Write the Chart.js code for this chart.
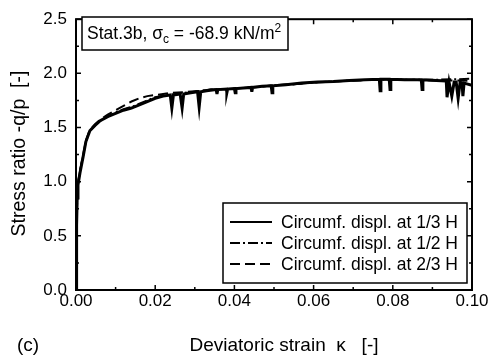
<!DOCTYPE html>
<html>
<head>
<meta charset="utf-8">
<script src="https://cdn.jsdelivr.net/npm/chart.js@4"></script>
<style>
    html, body { margin: 0; padding: 0; background: #fff; }
    #wrap { width: 491px; height: 358px; position: relative; }
</style>
</head>
<body>
<div id="wrap"><canvas id="canvas"></canvas></div>
<script>
// circumferential displacement at 1/3 H (solid)
const strainSolid = [
    0, 0.0001, 0.0002, 0.0003, 0.0005, 0.001, 0.0018, 0.0025, 0.0035, 0.0048,
    0.006, 0.008, 0.010, 0.012, 0.014, 0.016, 0.018, 0.020, 0.022, 0.0238,
    0.0242, 0.0246, 0.0263, 0.0268, 0.0272, 0.029, 0.0307, 0.0311, 0.0315, 0.033,
    0.0354, 0.0356, 0.0358, 0.038, 0.0381, 0.0383, 0.040, 0.0402, 0.0404, 0.0442,
    0.0444, 0.0446, 0.047, 0.0493, 0.0495, 0.0497, 0.053, 0.057, 0.061, 0.065,
    0.069, 0.073, 0.0766, 0.0768, 0.077, 0.0791, 0.0793, 0.0795, 0.083, 0.0872,
    0.0874, 0.0876, 0.091, 0.0935, 0.0937, 0.0942, 0.0949, 0.0955, 0.096, 0.0965,
    0.097, 0.0975, 0.0977, 0.098, 0.1
];
const ratioSolid = [
    0, 0.3, 0.6, 0.85, 0.97, 1.08, 1.23, 1.37, 1.47, 1.52,
    1.56, 1.60, 1.63, 1.66, 1.68, 1.71, 1.74, 1.77, 1.79, 1.80,
    1.68, 1.80, 1.81, 1.68, 1.81, 1.82, 1.83, 1.69, 1.83, 1.84,
    1.85, 1.81, 1.85, 1.855, 1.82, 1.855, 1.86, 1.82, 1.86, 1.87,
    1.83, 1.87, 1.88, 1.885, 1.82, 1.885, 1.895, 1.91, 1.92, 1.925,
    1.935, 1.94, 1.945, 1.84, 1.945, 1.945, 1.85, 1.945, 1.94, 1.94,
    1.85, 1.94, 1.935, 1.93, 1.78, 1.92, 1.79, 1.92, 1.92, 1.77,
    1.92, 1.91, 1.79, 1.91, 1.89
];

// at 1/2 H (dash-dot)
const strainDashDot = [
    0, 0.0001, 0.0002, 0.0003, 0.0005, 0.001, 0.0018, 0.0025, 0.0035, 0.0048,
    0.006, 0.008, 0.010, 0.012, 0.014, 0.016, 0.018, 0.020, 0.023, 0.026,
    0.030, 0.034, 0.038, 0.042, 0.046, 0.050, 0.055, 0.060, 0.065, 0.070,
    0.075, 0.080, 0.085, 0.090, 0.095, 0.1
];
const ratioDashDot = [
    0, 0.32, 0.62, 0.86, 0.98, 1.09, 1.24, 1.37, 1.47, 1.52,
    1.56, 1.60, 1.64, 1.67, 1.69, 1.72, 1.75, 1.78, 1.80, 1.815,
    1.83, 1.85, 1.855, 1.865, 1.875, 1.89, 1.90, 1.915, 1.925, 1.935,
    1.94, 1.945, 1.94, 1.94, 1.945, 1.95
];

// at 2/3 H (dashed)
const strainDashed = [
    0, 0.0001, 0.0002, 0.0003, 0.0005, 0.001, 0.0018, 0.0025, 0.0035, 0.0048,
    0.006, 0.008, 0.010, 0.012, 0.014, 0.016, 0.018, 0.020, 0.022, 0.024,
    0.027, 0.030, 0.034, 0.038, 0.042, 0.046, 0.050, 0.055, 0.060, 0.065,
    0.070, 0.075, 0.080, 0.085, 0.090, 0.095, 0.1
];
const ratioDashed = [
    0, 0.3, 0.62, 0.87, 0.99, 1.10, 1.25, 1.38, 1.48, 1.53,
    1.57, 1.62, 1.66, 1.70, 1.74, 1.77, 1.79, 1.80, 1.81, 1.82,
    1.825, 1.835, 1.85, 1.855, 1.865, 1.875, 1.89, 1.90, 1.915, 1.925,
    1.935, 1.94, 1.945, 1.94, 1.935, 1.935, 1.93
];

const seriesLabels = ['Circumf. displ. at 1/3 H', 'Circumf. displ. at 1/2 H', 'Circumf. displ. at 2/3 H'];
const xTickLabels = ['0.00', '0.02', '0.04', '0.06', '0.08', '0.10'];
const yTickLabels = ['0.0', '0.5', '1.0', '1.5', '2.0', '2.5'];

const FONT = '"Liberation Sans", Arial, sans-serif';

function toPoints(xs, ys) {
    return xs.map((v, i) => ({ x: v, y: ys[i] }));
}

// frame, inward ticks, boxes and axis titles
const decor = {
    id: 'decor',
    afterDraw(chart) {
        const { ctx, chartArea: a, scales: { x, y } } = chart;
        ctx.save();
        ctx.strokeStyle = '#000';
        ctx.fillStyle = '#000';

        // ticks on all four sides
        ctx.lineWidth = 1.5;
        for (let i = 0; i <= 10; i++) {
            const px = x.getPixelForValue(i * 0.01);
            const len = i % 2 === 0 ? 5 : 3;
            ctx.beginPath();
            ctx.moveTo(px, a.bottom); ctx.lineTo(px, a.bottom - len);
            ctx.moveTo(px, a.top); ctx.lineTo(px, a.top + len);
            ctx.stroke();
        }
        for (let i = 0; i <= 10; i++) {
            const py = y.getPixelForValue(i * 0.25);
            const len = i % 2 === 0 ? 5 : 3;
            ctx.beginPath();
            ctx.moveTo(a.left, py); ctx.lineTo(a.left + len, py);
            ctx.moveTo(a.right, py); ctx.lineTo(a.right - len, py);
            ctx.stroke();
        }

        ctx.lineWidth = 2;
        ctx.strokeRect(a.left, a.top, a.right - a.left, a.bottom - a.top);

        // title box
        ctx.lineWidth = 1.5;
        ctx.fillStyle = '#fff';
        ctx.fillRect(82, 17, 206, 33);
        ctx.strokeRect(82, 17, 206, 33);
        ctx.fillStyle = '#000';
        ctx.textBaseline = 'alphabetic';
        ctx.textAlign = 'left';
        let tx = 87;
        const base = 39;
        const parts = [
            ['Stat.3b, σ', 17.5, 0],
            ['c', 12, 4],
            [' = -68.9 kN/m', 17.5, 0],
            ['2', 12, -7]
        ];
        parts.forEach(([t, size, dy]) => {
            ctx.font = size + 'px ' + FONT;
            ctx.fillText(t, tx, base + dy);
            tx += ctx.measureText(t).width;
        });

        // legend box
        ctx.fillStyle = '#fff';
        ctx.fillRect(223, 203, 244, 80);
        ctx.strokeRect(223, 203, 244, 80);
        ctx.fillStyle = '#000';
        ctx.font = '17.5px ' + FONT;
        ctx.textBaseline = 'middle';
        chart.data.datasets.forEach((ds, i) => {
            const ly = 222 + i * 21;
            ctx.save();
            ctx.lineWidth = 2;
            ctx.setLineDash(ds.borderDash || []);
            ctx.beginPath();
            ctx.moveTo(230, ly); ctx.lineTo(272, ly);
            ctx.stroke();
            ctx.restore();
            ctx.fillText(ds.label, 281, ly + 1);
        });

        // axis titles
        ctx.font = '19px ' + FONT;
        ctx.textBaseline = 'alphabetic';
        ctx.textAlign = 'center';
        ctx.fillText('Deviatoric strain  κ   [-]', 284, 351);
        ctx.textAlign = 'left';
        ctx.fillText('(c)', 17, 351);
        ctx.save();
        ctx.font = '19.5px ' + FONT;
        ctx.translate(25, 153.5);
        ctx.rotate(-Math.PI / 2);
        ctx.textAlign = 'center';
        ctx.fillText('Stress ratio -q/p  [-]', 0, 0);
        ctx.restore();

        ctx.restore();
    }
};

const ctx = document.getElementById('canvas').getContext('2d');
new Chart(ctx, {
    type: 'line',
    data: {
        datasets: [{
            label: seriesLabels[0],
            data: toPoints(strainSolid, ratioSolid),
            borderColor: '#000',
            borderWidth: 3,
            pointRadius: 0,
            tension: 0
        }, {
            label: seriesLabels[1],
            data: toPoints(strainDashDot, ratioDashDot),
            borderColor: '#000',
            borderWidth: 2,
            borderDash: [10, 3, 2, 3],
            pointRadius: 0,
            tension: 0
        }, {
            label: seriesLabels[2],
            data: toPoints(strainDashed, ratioDashed),
            borderColor: '#000',
            borderWidth: 2,
            borderDash: [10, 5],
            pointRadius: 0,
            tension: 0
        }]
    },
    options: {
        responsive: true,
        maintainAspectRatio: false,
        animation: false,
        layout: { padding: { top: 12, right: 19, left: 0, bottom: 0 } },
        plugins: {
            legend: { display: false },
            tooltip: { enabled: false }
        },
        scales: {
            x: {
                type: 'linear',
                min: 0,
                max: 0.1,
                grid: { display: false, drawTicks: false, tickLength: 0 },
                border: { display: false },
                afterFit: (scale) => { scale.height = 68; },
                ticks: {
                    stepSize: 0.02,
                    padding: 1,
                    color: '#000',
                    font: { family: FONT, size: 17 },
                    callback: (v, i) => xTickLabels[i]
                }
            },
            y: {
                min: 0,
                max: 2.5,
                grid: { display: false, drawTicks: false, tickLength: 0 },
                border: { display: false },
                afterFit: (scale) => { scale.width = 76; },
                ticks: {
                    stepSize: 0.5,
                    padding: 9,
                    color: '#000',
                    font: { family: FONT, size: 17 },
                    callback: (v, i) => yTickLabels[i]
                }
            }
        }
    },
    plugins: [decor]
});
</script>
</body>
</html>
